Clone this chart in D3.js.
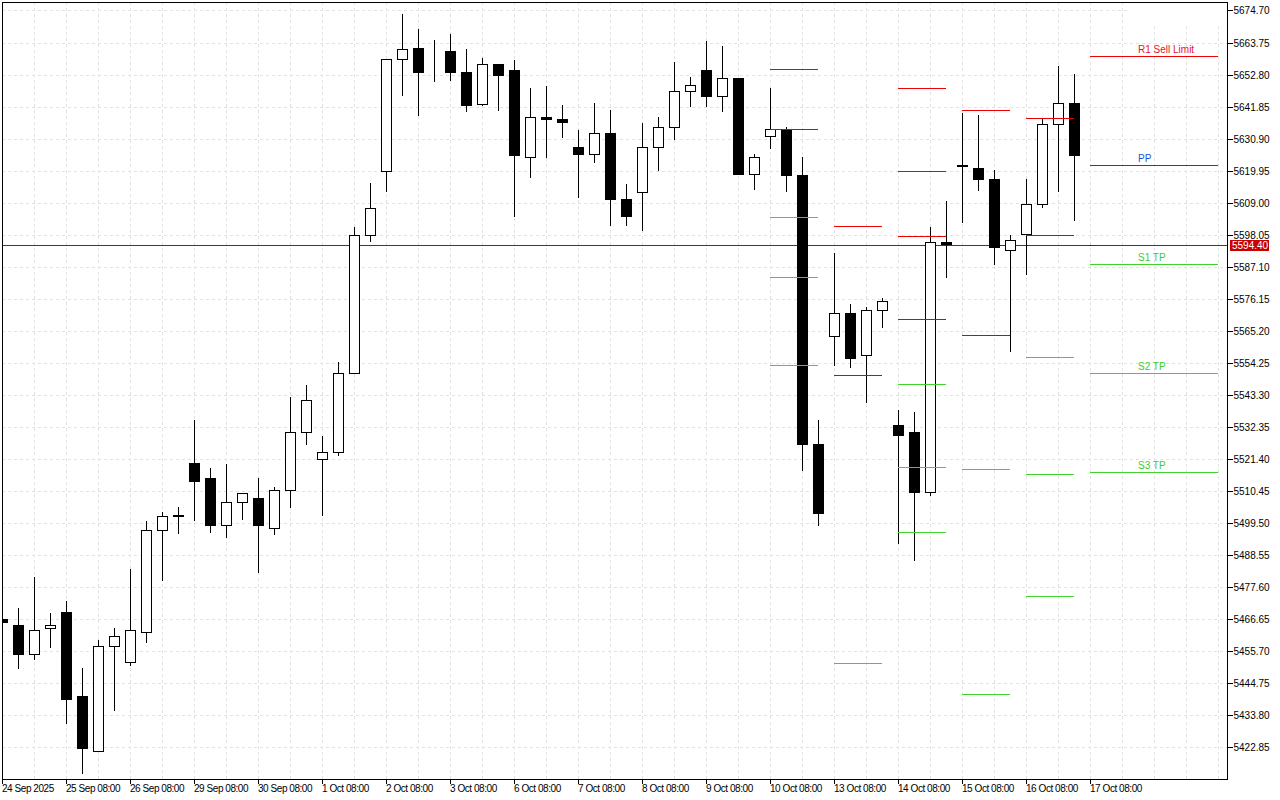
<!DOCTYPE html>
<html>
<head>
<meta charset="utf-8">
<script src="https://cdn.jsdelivr.net/npm/d3@7"></script>
<style>
html, body { margin: 0; background: #fff; }
svg { display: block; }
text { font-family: "Liberation Sans", sans-serif; font-size: 10px; fill: #000; }
.xaxis text { letter-spacing: -.45px; }
</style>
</head>
<body>
<script>
var opens = [5466.7,5464.6,5454.7,5463.6,5469.0,5440.3,5421.6,5457.4,5452.0,5462.2,5497.1,5502.2,5520.0,5514.9,5498.8,5506.7,5508.0,5497.8,5510.8,5530.6,5521.4,5523.8,5550.8,5598.0,5619.8,5658.1,5661.9,5653.7,5660.8,5653.7,5642.7,5656.4,5654.4,5624.6,5638.3,5637.6,5628.0,5625.6,5632.8,5610.2,5612.6,5628.0,5634.9,5647.2,5654.4,5645.5,5651.6,5618.8,5631.8,5633.8,5618.5,5526.5,5563.4,5571.3,5556.9,5572.3,5533.0,5530.6,5510.1,5595.6,5621.9,5620.9,5617.1,5592.8,5598.3,5608.5,5635.9,5643.1,5594.5];
var highs = [5466.7,5470.4,5481.0,5468.7,5472.8,5449.9,5459.5,5463.6,5483.8,5500.2,5503.3,5505.0,5534.7,5518.3,5519.7,5509.8,5514.9,5511.8,5542.6,5546.7,5529.2,5554.5,5600.7,5615.7,5658.1,5673.5,5668.4,5664.6,5666.7,5661.5,5658.5,5656.4,5657.8,5648.2,5648.9,5642.4,5633.8,5643.1,5640.7,5615.4,5636.2,5638.3,5657.1,5652.0,5664.3,5662.6,5651.6,5625.6,5648.2,5634.9,5624.6,5534.7,5591.8,5574.4,5573.3,5576.4,5538.1,5537.4,5600.7,5609.5,5639.6,5639.0,5620.2,5598.0,5617.1,5638.0,5655.7,5653.0,5594.5];
var lows = [5465.6,5449.9,5453.0,5457.1,5431.1,5414.0,5421.6,5435.6,5450.9,5458.8,5480.0,5496.1,5500.5,5496.4,5494.7,5500.9,5482.7,5495.7,5505.0,5526.5,5502.2,5522.7,5550.8,5595.9,5613.0,5645.8,5639.0,5650.6,5650.9,5640.3,5642.4,5640.7,5604.4,5617.8,5624.6,5631.4,5610.9,5622.9,5601.4,5601.4,5599.7,5620.2,5630.8,5642.0,5642.0,5640.3,5618.8,5613.7,5627.7,5613.0,5517.6,5498.8,5553.5,5552.8,5540.9,5566.5,5492.7,5486.8,5509.1,5583.6,5602.4,5613.3,5588.0,5558.3,5584.6,5607.5,5613.0,5603.1,5594.5];
var closes = [5465.6,5454.7,5462.9,5464.6,5439.3,5422.6,5457.4,5460.9,5462.9,5497.1,5501.9,5501.9,5513.9,5498.8,5506.7,5509.8,5498.8,5510.8,5530.6,5541.5,5523.8,5550.8,5598.0,5607.2,5658.1,5661.5,5653.7,5653.6,5653.7,5642.4,5656.4,5652.6,5625.3,5638.3,5637.6,5636.6,5625.6,5632.8,5610.2,5604.4,5628.0,5634.9,5647.2,5649.2,5645.5,5651.6,5618.8,5624.6,5634.2,5618.5,5526.5,5502.9,5571.3,5555.9,5572.3,5575.4,5529.6,5510.1,5595.6,5594.9,5621.5,5617.1,5593.8,5596.2,5608.5,5635.9,5643.1,5625.3,5594.4];

var priceTicks = ["5674.70","5663.75","5652.80","5641.85","5630.90","5619.95","5609.00","5598.05","5587.10","5576.15","5565.20","5554.25","5543.30","5532.35","5521.40","5510.45","5499.50","5488.55","5477.60","5466.65","5455.70","5444.75","5433.80","5422.85"];
var dateLabels = ["24 Sep 2025","25 Sep 08:00","26 Sep 08:00","29 Sep 08:00","30 Sep 08:00","1 Oct 08:00","2 Oct 08:00","3 Oct 08:00","6 Oct 08:00","7 Oct 08:00","8 Oct 08:00","9 Oct 08:00","10 Oct 08:00","13 Oct 08:00","14 Oct 08:00","15 Oct 08:00","16 Oct 08:00","17 Oct 08:00"];

// pivot levels, one row per session: start bar, end bar, price
var redLevels = [[48,51,5654.7],[52,55,5601.0],[56,59,5648.2],[56,59,5619.8],[56,59,5597.6],[60,63,5640.7],[64,67,5638.0],[68,76,5659.1]];
var blueLevels = [[48,51,5634.2],[52,55,5550.1],[56,59,5569.2],[60,63,5563.8],[64,67,5598.0],[68,76,5621.9]];
var greenLevels = [[48,51,5604.1],[48,51,5583.6],[48,51,5553.5],[52,55,5451.6],[56,59,5547.0],[56,59,5518.6],[56,59,5496.4],[60,63,5517.9],[60,63,5441.0],[64,67,5556.2],[64,67,5516.2],[64,67,5474.5],[68,76,5588.0],[68,76,5550.8],[68,76,5516.9]];

var levelNames = ["R1 Sell Limit","PP","S1 TP","S2 TP","S3 TP"];
var levelNamePrices = [5659.1,5621.9,5588.0,5550.8,5516.9];
var levelNameColors = ["#e8102a","#1a55d8","#44cc22","#44cc22","#44cc22"];

var lastPrice = 5594.40;

var width = 1280, height = 800,
    left = 2, right = 1227, top_ = 2, bottom = 779;

var x = d3.scaleLinear().domain([0, 76]).range([2, 1218]);
var y = d3.scaleLinear().domain([5674.70, 5422.85]).range([10.99, 747.68]);

function px(v) { return Math.round(x(v)) + .5; }
function py(v) { return Math.floor(y(v)) + .5; }

var svg = d3.select("body").append("svg")
    .attr("width", width)
    .attr("height", height)
    .attr("shape-rendering", "crispEdges");

svg.append("clipPath").attr("id", "plot").append("rect")
    .attr("x", left).attr("y", top_).attr("width", right - left).attr("height", bottom - top_);

// grid
var gridX = d3.range(2, 77, 2);
svg.append("g").selectAll("line").data(gridX).enter().append("line")
    .attr("x1", px).attr("x2", px)
    .attr("y1", top_).attr("y2", bottom)
    .attr("stroke", "#e2e2e2").attr("stroke-dasharray", "3,3");
svg.append("g").selectAll("line").data(priceTicks).enter().append("line")
    .attr("x1", left).attr("x2", right)
    .attr("y1", function(d) { return py(+d); }).attr("y2", function(d) { return py(+d); })
    .attr("stroke", "#e2e2e2").attr("stroke-dasharray", "3,3");

// blank label box in the top right corner hides the grid there
svg.append("rect")
    .attr("x", 1127).attr("y", 3)
    .attr("width", 100).attr("height", 22)
    .attr("fill", "#fff");

var plot = svg.append("g").attr("clip-path", "url(#plot)");

// current price line sits under the candles
plot.append("line")
    .attr("x1", left).attr("x2", right)
    .attr("y1", py(lastPrice)).attr("y2", py(lastPrice))
    .attr("stroke", "#c40000");

var candles = plot.selectAll("g.candle").data(d3.range(opens.length)).enter().append("g").attr("class", "candle");

candles.append("line")
    .attr("x1", px).attr("x2", px)
    .attr("y1", function(i) { return py(highs[i]) - .5; })
    .attr("y2", function(i) { return py(lows[i]) + .5; })
    .attr("stroke", "#000");

candles.append("rect")
    .attr("x", function(i) { return px(i) - 5; })
    .attr("width", 10)
    .attr("y", function(i) { return py(Math.max(opens[i], closes[i])); })
    .attr("height", function(i) { return py(Math.min(opens[i], closes[i])) - py(Math.max(opens[i], closes[i])); })
    .attr("fill", function(i) { return closes[i] >= opens[i] ? "#fff" : "#000"; })
    .attr("stroke", "#000");

function drawLevels(rows, color) {
  plot.append("g").selectAll("line").data(rows).enter().append("line")
      .attr("x1", function(d) { return px(d[0]) - .5; })
      .attr("x2", function(d) { return px(d[1]) - .5; })
      .attr("y1", function(d) { return py(d[2]); })
      .attr("y2", function(d) { return py(d[2]); })
      .attr("stroke", color);
}
drawLevels(greenLevels, "#3fd42c");
drawLevels(blueLevels, "#0f48b8");
drawLevels(redLevels, "#f00000");

svg.append("g").selectAll("text").data(levelNames).enter().append("text")
    .attr("x", x(71))
    .attr("y", function(d, i) { return py(levelNamePrices[i]) - 4; })
    .style("fill", function(d, i) { return levelNameColors[i]; })
    .text(function(d) { return d; });

// frame
svg.append("rect")
    .attr("x", left + .5).attr("y", top_ + .5)
    .attr("width", right - left).attr("height", bottom - top_)
    .attr("fill", "none").attr("stroke", "#000");

// axes
var yAxis = d3.axisRight(y)
    .tickValues(priceTicks.map(Number))
    .tickSize(5).tickPadding(1)
    .tickFormat(d3.format(".2f"));
var yg = svg.append("g").attr("transform", "translate(" + (right + .5) + ",0)").call(yAxis);
yg.select(".domain").remove();
yg.selectAll(".tick").attr("transform", function(d) { return "translate(0," + py(d) + ")"; });
yg.selectAll(".tick text").attr("dy", null).attr("y", 3.5);

var xAxis = d3.axisBottom(x)
    .tickValues(dateLabels.map(function(d, i) { return i * 4; }))
    .tickSize(4)
    .tickFormat(function(d) { return dateLabels[d / 4]; });
var xg = svg.append("g").attr("class", "xaxis").attr("transform", "translate(0," + (bottom + .5) + ")").call(xAxis);
xg.select(".domain").remove();
xg.selectAll(".tick").attr("transform", function(d) { return "translate(" + px(d) + ",0)"; });
xg.selectAll(".tick text").attr("text-anchor", "start").attr("x", -.5).attr("dy", null).attr("y", 12.5);

// last price tag
svg.append("rect")
    .attr("x", right + 3).attr("y", py(lastPrice) - 5.5)
    .attr("width", 39).attr("height", 11)
    .attr("fill", "#c80000");
svg.append("text")
    .attr("x", right + 5).attr("y", py(lastPrice) + 3.5)
    .style("fill", "#fff")
    .text(d3.format(".2f")(lastPrice));
</script>
</body>
</html>
